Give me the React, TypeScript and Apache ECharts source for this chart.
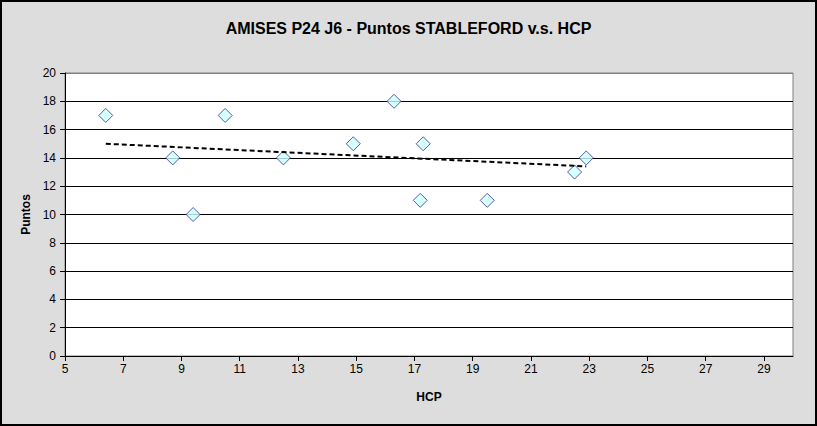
import React, { useEffect, useRef } from "react";
import * as echarts from "echarts";

const hcp = [6.4, 8.7, 9.4, 10.5, 12.5, 14.9, 16.3, 17.3, 17.2, 19.5, 22.5, 22.9];
const puntos = [17, 14, 10, 17, 14, 15, 18, 15, 11, 11, 13, 14];
const trendX = [6.4, 22.9];
const trendY = [15.0, 13.4];
const xTicks = [5, 7, 9, 11, 13, 15, 17, 19, 21, 23, 25, 27, 29];
const yTicks = [0, 2, 4, 6, 8, 10, 12, 14, 16, 18, 20];

const FONT = "'Liberation Sans', Arial, sans-serif";

export default function App() {
  const ref = useRef<HTMLDivElement>(null);
  useEffect(() => {
    if (!ref.current) return;
    const chart = echarts.init(ref.current, null, { renderer: "svg" });
    const splitColors = yTicks.map((v, i) => (i === yTicks.length - 1 ? "#808080" : "#000000"));
    chart.setOption({
      animation: false,
      backgroundColor: "#DDDDDD",
      textStyle: { fontFamily: FONT },
      title: {
        text: "AMISES P24 J6 - Puntos STABLEFORD v.s. HCP",
        left: "center",
        top: 15,
        textStyle: { fontFamily: FONT, fontSize: 16, fontWeight: "bold", color: "#000" },
      },
      graphic: [
        {
          type: "rect",
          shape: { x: 1, y: 1, width: 815, height: 424 },
          style: { fill: "none", stroke: "#000", lineWidth: 2 },
          silent: true,
          z: 100,
        },
      ],
      grid: {
        left: 65,
        top: 73,
        right: 24,
        bottom: 70,
        show: true,
        backgroundColor: "#FFFFFF",
        borderColor: "#808080",
        borderWidth: 1,
      },
      xAxis: {
        type: "value",
        min: 5,
        max: 30,
        interval: 2,
        name: "HCP",
        nameLocation: "middle",
        nameGap: 35,
        nameTextStyle: { fontFamily: FONT, fontSize: 12, fontWeight: "bold", color: "#000" },
        axisLine: { show: true, lineStyle: { color: "#000", width: 1 } },
        axisTick: { show: true, inside: false, length: 5, lineStyle: { color: "#000" }, customValues: xTicks },
        axisLabel: { color: "#000", fontSize: 12, fontFamily: FONT, margin: 7, customValues: xTicks },
        splitLine: { show: false },
      },
      yAxis: {
        type: "value",
        min: 0,
        max: 20,
        interval: 2,
        name: "Puntos",
        nameLocation: "middle",
        nameGap: 31,
        nameTextStyle: { fontFamily: FONT, fontSize: 12, fontWeight: "bold", color: "#000" },
        axisLine: { show: true, lineStyle: { color: "#000", width: 1 } },
        axisTick: { show: true, inside: false, length: 5, lineStyle: { color: "#000" } },
        axisLabel: { color: "#000", fontSize: 12, fontFamily: FONT, margin: 9 },
        splitLine: { show: true, lineStyle: { color: splitColors, width: 1 } },
      },
      series: [
        {
          type: "scatter",
          data: hcp.map((x, i) => [x, puntos[i]]),
          symbol: "diamond",
          symbolSize: [14, 14],
          itemStyle: { color: "#CCFFFF", borderColor: "#333399", borderWidth: 1 },
          z: 3,
        },
        {
          type: "line",
          data: trendX.map((x, i) => [x, trendY[i]]),
          symbol: "none",
          lineStyle: { color: "#000", width: 2, type: [5, 3] },
          z: 4,
        },
      ],
    });
    return () => chart.dispose();
  }, []);
  return (
    <div
      ref={ref}
      style={{ position: "fixed", left: 0, top: 0, width: 817, height: 426 }}
    />
  );
}
